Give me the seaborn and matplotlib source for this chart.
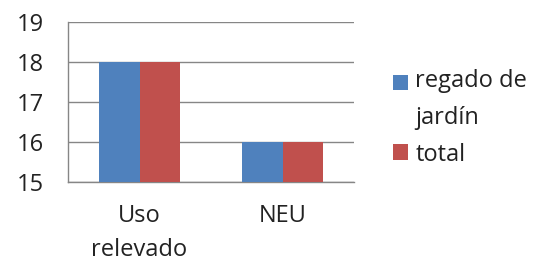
import matplotlib
matplotlib.use("Agg")
import matplotlib.pyplot as plt
import seaborn as sns
import pandas as pd

# datos del grafico
categorias = ["Uso\nrelevado", "NEU"]
regado = [18, 16]
total = [18, 16]
series = ["regado de\njardín", "total"]
colores = ["#4F81BD", "#C0504D"]

df = pd.DataFrame({
    "cat": categorias * 2,
    "valor": regado + total,
    "serie": [series[0]] * 2 + [series[1]] * 2,
})

sns.set_style("white")
plt.rcParams["font.family"] = ["Open Sans", "DejaVu Sans"]
gris = "#868686"
fs = 17

fig = plt.figure(figsize=(5.38, 2.61), dpi=100)
ax = fig.add_axes([0.1264, 0.3027, 0.658 - 0.1264, 0.9157 - 0.3027])

sns.barplot(data=df, x="cat", y="valor", hue="serie", palette=colores,
            width=0.56, gap=0, saturation=1, linewidth=0, ax=ax, zorder=3)

ax.set_ylim(15, 19)
ax.set_xlim(-0.5, 1.5)
ax.set_yticks([15, 16, 17, 18, 19])
ax.yaxis.grid(True, color=gris, linewidth=1)
ax.set_axisbelow(True)
ax.set_xlabel("")
ax.set_ylabel("")

for s in ["top", "right"]:
    ax.spines[s].set_visible(False)
for s in ["left", "bottom"]:
    ax.spines[s].set_color(gris)
    ax.spines[s].set_linewidth(1)

ax.tick_params(axis="y", length=6, color=gris, width=1, labelsize=fs, pad=11,
               labelcolor="#222222")
ax.set_xticks(range(len(categorias)))
ax.set_xticklabels(categorias, linespacing=1.55)
ax.tick_params(axis="x", which="major", length=0, labelsize=fs, pad=16,
               labelcolor="#222222")
ax.set_xticks([-0.5, 0.5, 1.5], minor=True)
ax.tick_params(axis="x", which="minor", length=6, color=gris, width=1)

leg = ax.legend(loc="upper left", bbox_to_anchor=(393 / 538, 1 - 69 / 261),
                bbox_transform=fig.transFigure, frameon=False, fontsize=fs,
                handlelength=0.65, handleheight=0.65, handletextpad=0.3,
                labelspacing=0.55, borderpad=0, borderaxespad=0)
for t in leg.get_texts():
    t.set_linespacing(1.7)
    t.set_color("#222222")
# cuadrado de la primera serie a la altura de la primera linea
h0 = leg.legend_handles[0]
h0.set_y(h0.get_y() + 12.6)

fig.savefig("out.png", dpi=100)
